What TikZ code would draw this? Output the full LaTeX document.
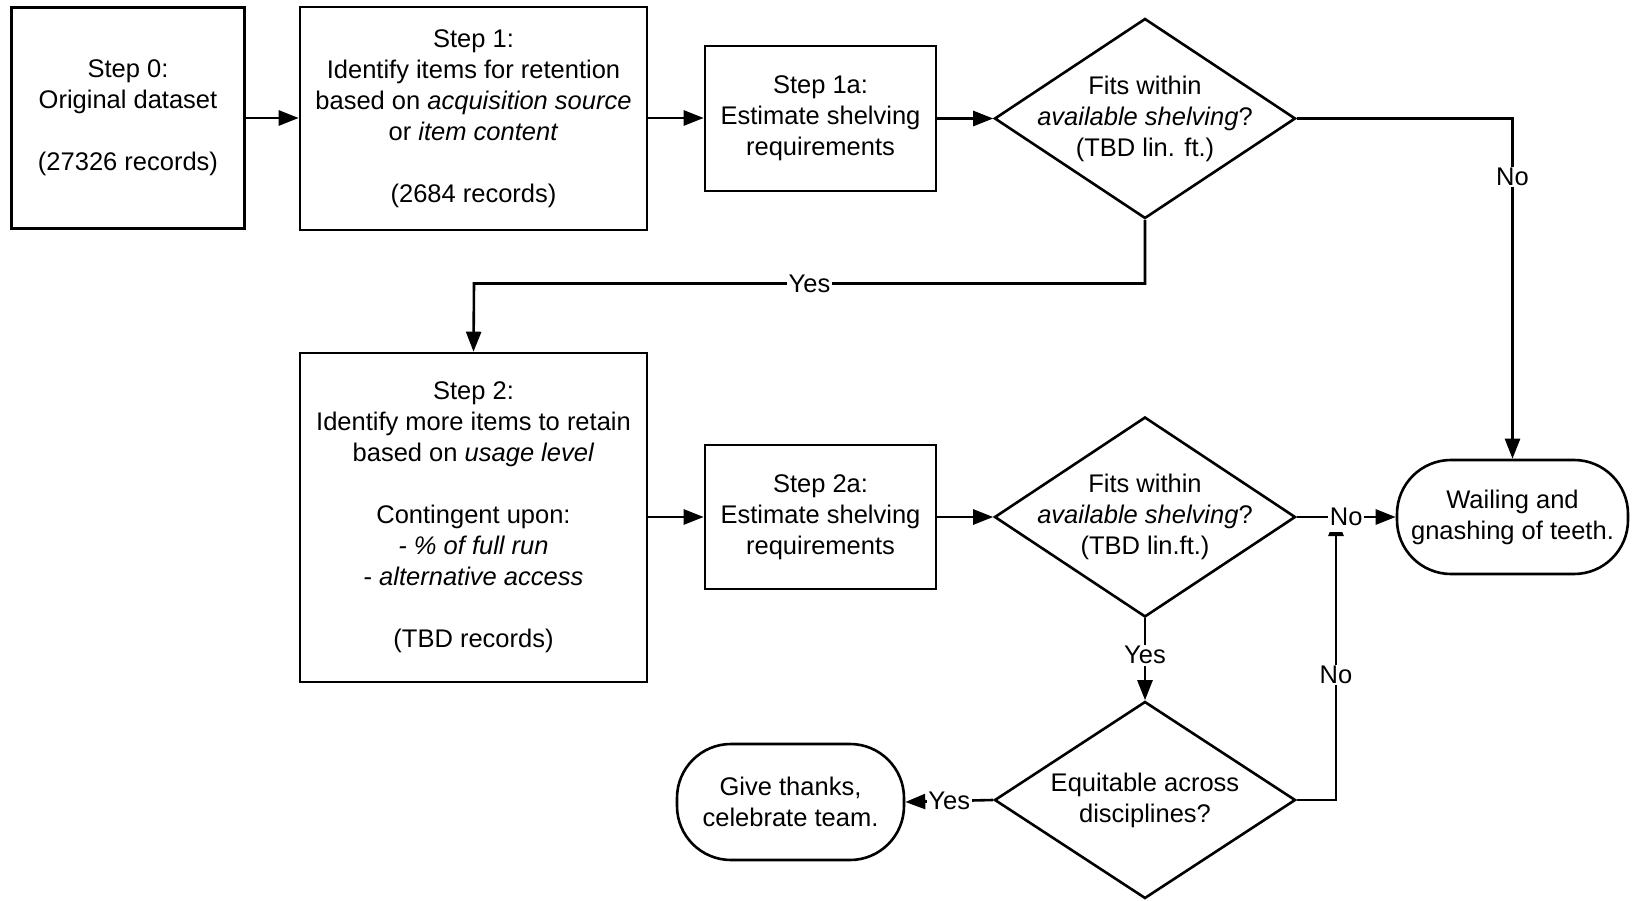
\documentclass[tikz,border=0pt]{standalone}
\usepackage{fontspec}
\setmainfont{Liberation Sans}
\usetikzlibrary{shapes.geometric,arrows.meta}
\begin{document}
\begin{tikzpicture}[x=1pt,y=-1pt, line width=2.6pt,
  font=\fontsize{25.5}{31}\selectfont,
  box/.style={draw, rectangle, align=center, inner sep=0pt},
  diam/.style={draw, diamond, minimum width=301pt, minimum height=200pt, inner sep=0pt},
  dtext/.style={align=center, inner sep=0pt},
  term/.style={draw, rectangle, rounded corners=54pt, align=center, inner sep=0pt},
  arr/.style={-{Triangle[length=20pt,width=15pt]}},
  lab/.style={fill=white, inner sep=1.5pt}]
\useasboundingbox (0,0) rectangle (1634,901);
% nodes
\node[box, minimum width=233pt, minimum height=221pt] (s0) at (128,118)
  {Step 0:\\Original dataset\\[31pt](27326 records)};
\node[box, minimum width=347pt, minimum height=223pt] (s1) at (473.5,118.5)
  {Step 1:\\Identify items for retention\\based on \textit{acquisition source}\\or \textit{item content}\\[31pt](2684 records)};
\node[box, minimum width=231pt, minimum height=145pt] (s1a) at (820.5,118.5)
  {Step 1a:\\Estimate shelving\\requirements};
\node[diam] (d1) at (1145,118.5) {};
\node[dtext] (d1t) at (d1) {Fits within\\\textit{available shelving}?\\(TBD lin. ft.)};
\node[box, minimum width=347pt, minimum height=329pt] (s2) at (473.5,517.5)
  {Step 2:\\Identify more items to retain\\based on \textit{usage level}\\[31pt]Contingent upon:\\\textit{- \% of full run}\\- \textit{alternative access}\\[31pt](TBD records)};
\node[box, minimum width=231pt, minimum height=144pt] (s2a) at (820.5,517)
  {Step 2a:\\Estimate shelving\\requirements};
\node[diam] (d2) at (1145,517) {};
\node[dtext] (d2t) at (d2) {Fits within\\\textit{available shelving}?\\(TBD lin.ft.)};
\node[term, minimum width=231pt, minimum height=114pt] (wail) at (1512.5,517)
  {Wailing and\\gnashing of teeth.};
\node[diam, minimum height=197pt] (d3) at (1145,800) {};
\node[dtext] (d3t) at (d3) {Equitable across\\disciplines?};
\node[term, minimum width=227pt, minimum height=116pt] (give) at (790.5,802)
  {Give thanks,\\celebrate team.};
% connectors
\coordinate (yj) at (474,283.5);
\coordinate (nj) at (1336,516);
\draw[arr] (s0.east |- 0,118) -- (s1.west |- 0,118);
\draw[arr] (s1.east |- 0,118) -- (s1a.west |- 0,118);
\draw[arr] (s1a.east) -- (d1.west);
\draw[arr] (d1.east) -| node[lab, pos=0.586]{No} (wail.north);
\draw[arr] (d1.south) -- (d1.south |- yj) -- node[lab]{Yes} (yj) -- (s2.north);
\draw[arr] (s2a.west -| s2.east) -- (s2a.west);
\draw[arr] (s2a.east) -- (d2.west);
\draw[arr] (d2.south) -- node[lab, pos=0.45]{Yes} (d3.north);
\draw[arr] (d3.east) -| node[lab, pos=0.72]{No} (nj);
\draw[arr] (d2.east) -- node[lab, inner xsep=1.5pt, inner ysep=6pt]{No} (wail.west);
\draw[arr] (d3.west) -- node[lab]{Yes} (give.east);
\end{tikzpicture}
\end{document}
